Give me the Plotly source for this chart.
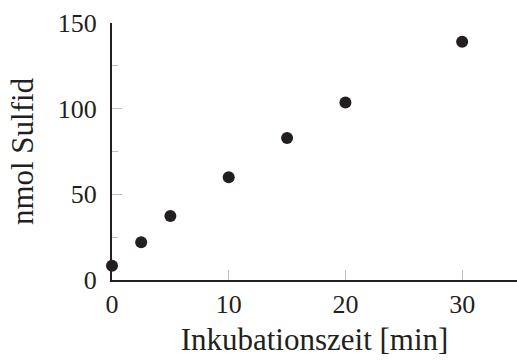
import plotly.graph_objects as go

# Inkubationszeit [min] vs. nmol Sulfid
zeit = [0, 2.5, 5, 10, 15, 20, 30]
sulfid = [8.3, 22, 37.3, 60, 82.9, 103.6, 139.1]

x_ticks = [0, 10, 20, 30]
y_ticks = [0, 50, 100, 150]
y_minor = [25, 75, 125]

FONT = "Liberation Serif"

fig = go.Figure()
fig.add_trace(go.Scatter(
    x=zeit, y=sulfid,
    mode="markers",
    marker=dict(color="#231f20", size=12),
    cliponaxis=False,
    showlegend=False,
))

fig.update_layout(
    width=517, height=360,
    margin=dict(l=112, r=0, t=23, b=80, autoexpand=False),
    plot_bgcolor="white", paper_bgcolor="white",
    font=dict(family=FONT, size=26, color="#231f20"),
)
fig.update_xaxes(
    range=[0, 34.7],
    tickvals=x_ticks,
    ticks="inside", ticklen=10, tickcolor="#c0c0c0", tickwidth=1,
    ticklabelstandoff=0,
    showline=True, linecolor="#231f20", linewidth=2,
    showgrid=False, zeroline=False, automargin=False,
    title=dict(text="Inkubationszeit [min]", standoff=10),
)
fig.update_yaxes(
    range=[0, 150],
    tickvals=y_ticks,
    ticks="inside", ticklen=10, tickcolor="#c0c0c0", tickwidth=1,
    ticklabelstandoff=8,
    minor=dict(tickvals=y_minor, ticks="inside", ticklen=6, tickcolor="#c0c0c0"),
    showline=True, linecolor="#231f20", linewidth=2,
    showgrid=False, zeroline=False, automargin=False,
    title=dict(text="nmol Sulfid"),
)

# page body has a default 8px margin; drop it so the figure sits at 0,0
fig.write_html("out.html", config={"displayModeBar": False},
               post_script="document.body.style.margin='0';")
